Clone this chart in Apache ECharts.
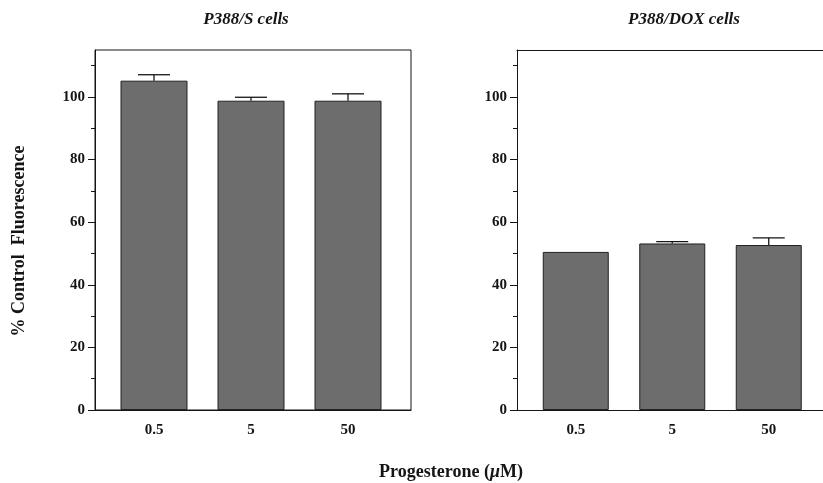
<!DOCTYPE html>
<html>
<head>
<meta charset="utf-8">
<script src="https://cdn.jsdelivr.net/npm/echarts@6/dist/echarts.min.js"></script>
<style>
  html, body { margin: 0; padding: 0; background: #fff; }
  #main { width: 823px; height: 483px; }
</style>
</head>
<body>
<div id="main"></div>
<script>
// data
var doses = ['0.5', '5', '50'];
var sensMean = [105.2, 98.8, 98.8];   // P388/S
var sensErr = [1.9, 1.1, 2.2];
var resMean = [50.5, 53.2, 52.7];     // P388/DOX
var resErr = [0, 0.6, 2.3];
var yMajor = [0, 20, 40, 60, 80, 100];
var yMinor = [10, 30, 50, 70, 90, 110];
var yMax = 115;

var serif = '"Liberation Serif", "DejaVu Serif", serif';
var ink = '#151515';
var barColor = '#6d6d6d';

var myChart = echarts.init(document.getElementById('main'));

// error bar: vertical stem + cap
function errBar(params, api) {
  var e = api.value(2);
  if (!e) return;
  var top = api.coord([api.value(0), api.value(1) + e]);
  var base = api.coord([api.value(0), api.value(1)]);
  var half = 16;
  var st = { stroke: ink, lineWidth: 1.3 };
  return {
    type: 'group',
    children: [
      { type: 'line', shape: { x1: top[0], y1: top[1], x2: base[0], y2: base[1] }, style: st },
      { type: 'line', shape: { x1: top[0] - half, y1: top[1], x2: top[0] + half, y2: top[1] }, style: st }
    ]
  };
}

function rows(mean, err) {
  return doses.map(function (d, i) { return [i, mean[i], err[i]]; });
}

var tickLabel = { color: ink, fontFamily: serif, fontWeight: 'bold', fontSize: 15 };

// frame grid carries the box + major ticks, bar grid carries the bars + minor ticks
function frameY(idx) {
  return {
    gridIndex: idx, type: 'value', min: 0, max: yMax,
    axisLine: { show: true, lineStyle: { color: ink, width: 1 } },
    axisTick: { show: true, length: 7, customValues: yMajor, lineStyle: { color: ink } },
    axisLabel: Object.assign({ customValues: yMajor, margin: 10 }, tickLabel),
    splitLine: { show: false }
  };
}
function barY(idx, off) {
  return {
    gridIndex: idx, type: 'value', min: 0, max: yMax, offset: off,
    axisLine: { show: false },
    axisTick: { show: true, length: 4, customValues: yMinor, lineStyle: { color: ink } },
    axisLabel: { show: false },
    splitLine: { show: false }
  };
}
// plain horizontal line along the frame (bottom or top), no ticks/labels
function frameX(idx, pos) {
  return {
    gridIndex: idx, type: 'value', min: 0, max: 1, position: pos,
    axisLine: { show: true, onZero: false, lineStyle: { color: ink, width: 1 } },
    axisTick: { show: false }, axisLabel: { show: false }, splitLine: { show: false }
  };
}
function barX(idx) {
  return {
    gridIndex: idx, type: 'category', data: doses,
    axisLine: { show: false }, axisTick: { show: false },
    axisLabel: Object.assign({ margin: 13 }, tickLabel)
  };
}

var option = {
  backgroundColor: '#ffffff',
  animation: false,
  grid: [
    { left: 95, top: 50, width: 316, height: 360, show: true, borderColor: ink, borderWidth: 1, backgroundColor: 'transparent', outerBoundsMode: 'none' },
    { left: 105.5, top: 50, width: 291, height: 360, outerBoundsMode: 'none' },
    // right panel runs off the page edge: no right border
    { left: 517, top: 50, width: 330, height: 360, outerBoundsMode: 'none' },
    { left: 527.5, top: 50, width: 289.5, height: 360, outerBoundsMode: 'none' }
  ],
  xAxis: [frameX(0, 'bottom'), barX(1), frameX(2, 'bottom'), barX(3), frameX(2, 'top')],
  yAxis: [frameY(0), barY(1, 10.5), frameY(2), barY(3, 10.5)],
  series: [
    {
      type: 'bar', xAxisIndex: 1, yAxisIndex: 1, data: sensMean, barWidth: 67,
      itemStyle: { color: barColor, borderColor: '#222', borderWidth: 1 }
    },
    {
      type: 'custom', xAxisIndex: 1, yAxisIndex: 1, data: rows(sensMean, sensErr),
      renderItem: errBar, encode: { x: 0, y: 1 }, z: 5
    },
    {
      type: 'bar', xAxisIndex: 3, yAxisIndex: 3, data: resMean, barWidth: 66,
      itemStyle: { color: barColor, borderColor: '#222', borderWidth: 1 }
    },
    {
      type: 'custom', xAxisIndex: 3, yAxisIndex: 3, data: rows(resMean, resErr),
      renderItem: errBar, encode: { x: 0, y: 1 }, z: 5
    }
  ],
  graphic: [
    {
      type: 'text', x: 246, y: 20,
      style: { text: 'P388/S cells', fill: ink, font: 'italic bold 17px ' + serif, align: 'center', verticalAlign: 'middle' }
    },
    {
      type: 'text', x: 684, y: 20,
      style: { text: 'P388/DOX cells', fill: ink, font: 'italic bold 17px ' + serif, align: 'center', verticalAlign: 'middle' }
    },
    {
      type: 'text', x: 19, y: 241, rotation: Math.PI / 2,
      style: { text: '% Control  Fluorescence', fill: ink, font: 'bold 18px ' + serif, align: 'center', verticalAlign: 'middle' }
    },
    {
      type: 'text', x: 451, y: 472,
      style: {
        text: '{n|Progesterone (}{i|μ}{n|M)}', align: 'center', verticalAlign: 'middle',
        rich: {
          n: { fill: ink, fontFamily: serif, fontWeight: 'bold', fontSize: 18 },
          i: { fill: ink, fontFamily: serif, fontWeight: 'bold', fontStyle: 'italic', fontSize: 18 }
        }
      }
    }
  ]
};

myChart.setOption(option);
</script>
</body>
</html>
